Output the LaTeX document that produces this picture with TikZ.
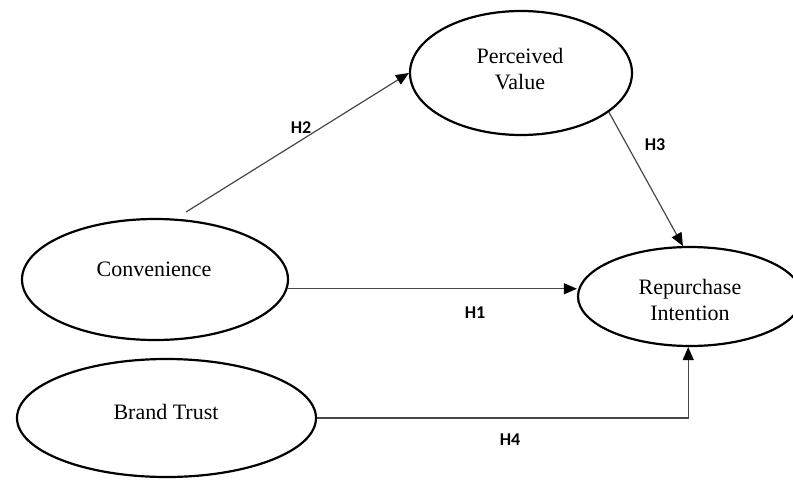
\documentclass[tikz,border=0pt]{standalone}
\usepackage{fontspec}
\setmainfont{Liberation Serif}
\newfontfamily\hfont{Carlito}
\usetikzlibrary{arrows.meta,shapes.geometric}
\begin{document}
\begin{tikzpicture}[x=1pt,y=-1pt,
  construct/.style={ellipse,draw,line width=2.2pt,inner sep=0pt},
  ctext/.style={font=\fontsize{22}{26}\selectfont,align=center,inner sep=0pt},
  hyp/.style={font=\hfont\bfseries\fontsize{18}{20}\selectfont,inner sep=0pt},
  link/.style={line width=1.2pt,draw=black!72,-{Triangle[length=13pt,width=11pt,color=black]}}]
\useasboundingbox (0,0) rectangle (793,482);
% constructs
\node[construct,minimum width=222pt,minimum height=124pt] (pv) at (521,73) {};
\node[construct,minimum width=266pt,minimum height=121pt] (conv) at (155,279.5) {};
\node[construct,minimum width=299pt,minimum height=118pt] (bt) at (166.5,418) {};
\node[construct,minimum width=224pt,minimum height=99pt] (ri) at (690,296.5) {};
% texts
\node[ctext] (pv-t) at (520,69) {Perceived\\Value};
\node[ctext] (conv-t) at (154,269) {Convenience};
\node[ctext] (bt-t) at (166,412) {Brand Trust};
\node[ctext] (ri-t) at (690,300) {Repurchase\\Intention};
% connectors
\coordinate (h2s) at (186,212);
\draw[link] (h2s) -- (pv.west);
\draw[link] (pv.-24) -- (ri.98);
\draw[link] (conv.-4) -- (conv.-4 -| ri.west);
\draw[link] (bt.east) -| (ri.-92);
% hypothesis labels
\node[hyp] (h1) at (475,313) {H1};
\node[hyp] (h2) at (301,128) {H2};
\node[hyp] (h3) at (655,145) {H3};
\node[hyp] (h4) at (510,440) {H4};
\end{tikzpicture}
\end{document}
